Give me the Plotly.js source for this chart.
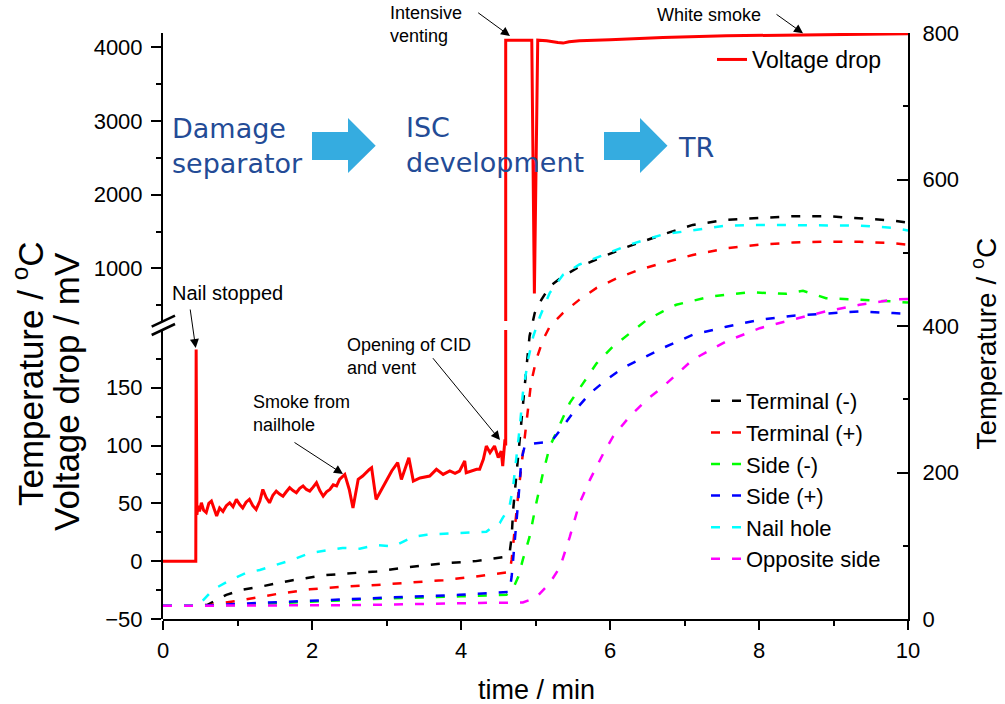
<!DOCTYPE html>
<html>
<head>
<meta charset="utf-8">
<script src="https://cdn.plot.ly/plotly-3.0.1.min.js"></script>
<style>html,body{margin:0;padding:0;background:#fff;}#chart{width:1005px;height:704px;}</style>
</head>
<body>
<div id="chart"></div>
<script>
// ---------------- data ----------------
// Voltage drop (mV), before venting (lower broken-axis segment)
const timeVoltLow = [0, 0.44, 0.445, 0.455, 0.47, 0.49, 0.515, 0.545, 0.58, 0.615, 0.65, 0.685, 0.72, 0.76, 0.805, 0.85, 0.895, 0.94, 0.985, 1.03, 1.07, 1.115, 1.16, 1.205, 1.25, 1.3, 1.34, 1.385, 1.43, 1.475, 1.52, 1.565, 1.61, 1.655, 1.7, 1.745, 1.79, 1.835, 1.88, 1.925, 1.97, 2.015, 2.06, 2.105, 2.15, 2.195, 2.24, 2.285, 2.33, 2.37, 2.44, 2.5, 2.55, 2.62, 2.68, 2.77, 2.8, 2.86, 2.95, 3.01, 3.07, 3.15, 3.2, 3.3, 3.36, 3.45, 3.58, 3.67, 3.76, 3.85, 3.92, 3.98, 4.05, 4.07, 4.14, 4.21, 4.25, 4.3, 4.34, 4.39, 4.45, 4.5, 4.54, 4.56, 4.59, 4.6, 4.6];
const voltLow     = [0, 0, 183, 40, 48, 43, 50.5, 44, 42, 50, 52, 45, 39, 46, 43, 48, 50.5, 47, 53.4, 49, 46, 51, 53.4, 48, 44.7, 52, 62, 55, 50.5, 57, 60.6, 58, 56.2, 60, 63.5, 61, 59.2, 63, 65, 62, 60.6, 64, 67.8, 61, 56.2, 60, 62, 66, 65, 70.7, 75, 62, 46, 70.7, 73.6, 79.4, 80.8, 53.4, 63.5, 71, 78, 85.2, 70.7, 89.5, 69.2, 72, 73.6, 79.4, 75, 78, 76, 77.9, 86.6, 76.5, 78, 79.4, 79.4, 88, 99.6, 93.8, 99.6, 89.5, 95.2, 82.2, 105.4, 100, 1000];
// Voltage drop (mV), after venting (upper broken-axis segment)
const timeVoltHigh = [4.6, 4.6, 4.95, 4.985, 5.03, 5.15, 5.3, 5.37, 5.45, 5.59, 6.0, 6.71, 7.56, 8.46, 9.35, 10];
const voltHigh     = [0, 4098, 4098, 660, 4098, 4090, 4065, 4058, 4075, 4090, 4105, 4134, 4157, 4170, 4180, 4185];

// Temperatures (°C)
const tTermNeg = [0, 0.45, 0.59, 0.85, 1.07, 1.3, 1.74, 2.19, 2.64, 2.87, 3.31, 3.76, 4.2, 4.61, 4.65, 4.68, 4.7, 4.74, 4.79, 4.83, 4.88, 4.92, 4.99, 5.08, 5.19, 5.37, 5.59, 5.91, 6.26, 6.71, 7.11, 7.56, 8.01, 8.46, 8.9, 9.35, 9.8, 10];
const TTermNeg = [18, 18, 19, 33, 40, 44, 53, 60, 63, 65, 71, 76, 79, 85, 88, 112, 149, 194, 249, 299, 345, 386, 418, 436, 454, 468, 481, 495, 509, 525, 538, 545, 548, 550, 550, 547, 544, 541];

const tTermPos = [0, 0.45, 0.63, 1.07, 1.52, 1.97, 2.41, 2.87, 3.31, 3.76, 4.2, 4.65, 4.68, 4.72, 4.77, 4.81, 4.86, 4.9, 4.94, 5.01, 5.1, 5.19, 5.37, 5.59, 5.82, 6.09, 6.4, 6.71, 7.11, 7.56, 8.01, 8.46, 8.9, 9.35, 9.8, 10];
const TTermPos = [18, 18, 19, 26, 34, 40.5, 44, 46.5, 50, 53, 58, 64, 81, 126, 172, 208, 254, 290, 322, 354, 381, 399, 418, 436, 452, 465, 477, 486, 497, 506, 511, 514, 515, 515, 513, 511];

const tSideNeg = [0, 0.5, 1.0, 2.19, 3.0, 4.0, 4.61, 4.7, 4.77, 4.83, 4.92, 5.01, 5.1, 5.19, 5.33, 5.46, 5.64, 5.82, 6.04, 6.26, 6.49, 6.71, 6.89, 7.34, 7.87, 8.37, 8.59, 8.9, 9.35, 9.8, 10];
const TSideNeg = [18, 18, 19, 24.6, 28, 31, 33, 42, 58, 81, 112, 158, 199, 235, 267, 295, 322, 349, 372, 390, 408, 420, 429, 440, 446, 444, 448, 438, 436, 433.5, 432];

const tSidePos = [0, 0.5, 1.3, 2.19, 3.09, 3.98, 4.65, 4.68, 4.72, 4.77, 4.81, 4.86, 5.01, 5.21, 5.37, 5.5, 5.73, 5.95, 6.17, 6.44, 6.71, 7.11, 7.56, 8.01, 8.46, 8.9, 9.35, 9.8, 10];
const TSidePos = [18, 18, 22, 26, 29.6, 33, 37, 58, 103, 163, 217, 238, 240, 242, 263, 281, 308, 326.5, 342.5, 356, 370, 388, 399, 408.5, 414, 417, 420, 417.6, 416.7];

const tNail = [0, 0.47, 0.67, 0.9, 1.12, 1.3, 1.74, 1.97, 2.41, 2.64, 2.87, 3.09, 3.35, 3.54, 3.98, 4.34, 4.45, 4.52, 4.56, 4.65, 4.7, 4.74, 4.79, 4.83, 4.9, 4.97, 5.06, 5.19, 5.37, 5.59, 5.91, 6.26, 6.71, 7.11, 7.56, 8.01, 8.46, 8.9, 9.35, 9.8, 10];
const TNail = [18, 18, 40, 53, 63, 67, 81, 90, 97, 96, 101, 99, 112, 115, 117.5, 119, 128, 131, 138, 153, 181, 217, 263, 308, 354, 386, 413, 445, 470, 484, 497, 511, 525, 531, 537, 538, 538, 538, 537, 534, 530.5];

const tOpp = [0, 1.0, 2.64, 4.25, 4.83, 5.01, 5.19, 5.33, 5.46, 5.59, 5.73, 5.91, 6.04, 6.26, 6.49, 6.71, 7.11, 7.56, 8.01, 8.46, 8.9, 9.35, 9.8, 10];
const TOpp = [18, 18, 19, 22, 22.5, 29.6, 49, 71, 112, 158, 190, 226, 249, 276, 299, 317, 354, 379, 397, 409, 420, 429, 436, 437];

const tempNames  = ['Terminal (-)', 'Terminal (+)', 'Side (-)', 'Side (+)', 'Nail hole', 'Opposite side'];
const tempColors = ['#000000', '#FF0000', '#00FF00', '#0000FF', '#00FFFF', '#FF00FF'];
const tempTimes  = [tTermNeg, tTermPos, tSideNeg, tSidePos, tNail, tOpp];
const tempValues = [TTermNeg, TTermPos, TSideNeg, TSidePos, TNail, TOpp];

const xTicks = [0, 2, 4, 6, 8, 10];

// ---------------- layout helpers ----------------
const ML = 163, MT = 33, PW = 745, PH = 586;
const PX = p => (p - ML) / PW;
const PY = p => (MT + PH - p) / PH;
const FONT = 'Liberation Sans, Arial, sans-serif';

const traces = [];
for (let i = 0; i < tempNames.length; i++) {
  traces.push({
    x: tempTimes[i], y: tempValues[i], type: 'scatter', mode: 'lines',
    name: tempNames[i], xaxis: 'x', yaxis: 'y', legend: 'legend2',
    line: {color: tempColors[i], width: 2.5, dash: '9px,12px'},
    hoverinfo: 'skip'
  });
}
traces.push({
  x: timeVoltLow, y: voltLow, type: 'scatter', mode: 'lines', name: 'Voltage drop',
  xaxis: 'x', yaxis: 'y2', legend: 'legend', line: {color: '#FF0000', width: 3}, hoverinfo: 'skip'
});
traces.push({
  x: timeVoltHigh, y: voltHigh, type: 'scatter', mode: 'lines', name: 'Voltage drop',
  xaxis: 'x', yaxis: 'y3', showlegend: false, line: {color: '#FF0000', width: 3}, hoverinfo: 'skip'
});

function blockArrow(x0, x1, x2) {
  const bt = 132, bb = 160, ht = 118, hb = 173, yc = 145.7;
  return {
    type: 'path', xref: 'paper', yref: 'paper', fillcolor: '#35ACE0', line: {width: 0},
    path: `M${PX(x0)},${PY(bt)} L${PX(x1)},${PY(bt)} L${PX(x1)},${PY(ht)} L${PX(x2)},${PY(yc)} L${PX(x1)},${PY(hb)} L${PX(x1)},${PY(bb)} L${PX(x0)},${PY(bb)} Z`
  };
}

const shapes = [
  blockArrow(312, 348, 375.7),
  blockArrow(604, 640, 667.5),
  {type: 'line', xref: 'paper', yref: 'paper', x0: PX(151.7), y0: PY(326.7), x1: PX(175), y1: PY(315.7), line: {color: 'black', width: 2.5}},
  {type: 'line', xref: 'paper', yref: 'paper', x0: PX(151.7), y0: PY(335), x1: PX(175), y1: PY(324), line: {color: 'black', width: 2.5}}
];

function txt(text, xl, yc, size, color, family) {
  return {text: text, xref: 'paper', yref: 'paper', x: PX(xl), y: PY(yc), xanchor: 'left', yanchor: 'middle',
    showarrow: false, align: 'left', font: {family: family || FONT, size: size, color: color || 'black'}};
}
function arrow(tx, ty, hx, hy) {
  return {text: '', xref: 'paper', yref: 'paper', x: PX(hx), y: PY(hy), ax: tx - hx, ay: ty - hy,
    showarrow: true, arrowhead: 2, arrowsize: 1.8, arrowwidth: 1, arrowcolor: 'black', standoff: 0};
}
function vtitle(text, xc, yc, size) {
  return {text: text, textangle: -90, xref: 'paper', yref: 'paper', x: PX(xc), y: PY(yc),
    xanchor: 'center', yanchor: 'middle', showarrow: false, font: {family: FONT, size: size, color: 'black'}};
}
const PHASE = 'DejaVu Sans, Verdana, sans-serif';
const PCOL = '#234B96';

const annotations = [
  txt('Damage<br>separator', 170, 146, 27, PCOL, PHASE),
  txt('ISC<br>development', 404, 145, 27, PCOL, PHASE),
  txt('TR', 676, 147, 27, PCOL, PHASE),
  txt('Nail stopped', 170, 293, 20),
  txt('Smoke from<br>nailhole', 251, 413.7, 18),
  txt('Opening of CID<br>and vent', 345, 356.5, 18),
  txt('Intensive<br>venting', 388, 24, 18),
  txt('White smoke', 655, 15, 18),
  arrow(190, 308, 195.7, 348),
  arrow(293, 441.5, 343, 474),
  arrow(431.7, 356.7, 500, 440),
  arrow(476.7, 11.7, 510, 36),
  arrow(775, 13.3, 803, 33.3),
  vtitle('Temperature / <sup>o</sup>C', 28, 374, 35),
  vtitle('Voltage drop / mV', 66, 392, 35),
  vtitle('Temperature / <sup>o</sup>C', 985, 343.5, 28),
  {text: 'time / min', xref: 'paper', yref: 'paper', x: PX(536), y: PY(690), xanchor: 'center', yanchor: 'middle',
   showarrow: false, font: {family: FONT, size: 27, color: 'black'}}
];

const axBase = {showline: true, linewidth: 2, linecolor: 'black', showgrid: false, zeroline: false,
  tickwidth: 2, tickcolor: 'black', tickfont: {family: FONT, size: 22, color: 'black'}, fixedrange: true};

const layout = {
  width: 1005, height: 704,
  margin: {l: ML, r: 1005 - ML - PW, t: MT, b: 704 - MT - PH},
  paper_bgcolor: 'white', plot_bgcolor: 'rgba(0,0,0,0)',
  font: {family: FONT, size: 22, color: 'black'},
  showlegend: true,
  xaxis: Object.assign({}, axBase, {domain: [0, 1], range: [0, 10], anchor: 'y', tickmode: 'array', tickvals: xTicks,
    ticks: 'outside', ticklen: 9, ticklabelstandoff: 2,
    minor: {dtick: 1, tick0: 0, ticks: 'outside', ticklen: 5, tickwidth: 2, tickcolor: 'black'}}),
  yaxis: Object.assign({}, axBase, {domain: [0, 1], range: [0, 800], side: 'right', anchor: 'x', dtick: 200, tick0: 0,
    ticks: 'inside', ticklen: 11, ticklabelstandoff: 8,
    minor: {dtick: 100, tick0: 0, ticks: 'inside', ticklen: 5, tickwidth: 2, tickcolor: 'black'}}),
  yaxis2: Object.assign({}, axBase, {domain: [0, 0.4932], range: [-50, 199.9], side: 'left', anchor: 'x', dtick: 50, tick0: 0,
    ticks: 'outside', ticklen: 10, ticklabelstandoff: 4,
    minor: {dtick: 25, tick0: 0, ticks: 'outside', ticklen: 5, tickwidth: 2, tickcolor: 'black'}}),
  yaxis3: Object.assign({}, axBase, {domain: [0.5085, 1], range: [287, 4195], side: 'left', anchor: 'x', dtick: 1000, tick0: 0,
    ticks: 'outside', ticklen: 10, ticklabelstandoff: 4,
    minor: {dtick: 500, tick0: 0, ticks: 'outside', ticklen: 5, tickwidth: 2, tickcolor: 'black'}}),
  legend: {x: PX(712), y: PY(38), xanchor: 'left', yanchor: 'top', bgcolor: 'rgba(0,0,0,0)',
    font: {family: FONT, size: 23, color: 'black'}, itemwidth: 30, tracegroupgap: 0},
  legend2: {x: PX(706), y: PY(380), xanchor: 'left', yanchor: 'top', bgcolor: 'rgba(0,0,0,0)',
    font: {family: FONT, size: 22, color: 'black'}, itemwidth: 30, tracegroupgap: 0},
  shapes: shapes,
  annotations: annotations
};

Plotly.newPlot('chart', traces, layout, {displayModeBar: false, staticPlot: true});
</script>
</body>
</html>
